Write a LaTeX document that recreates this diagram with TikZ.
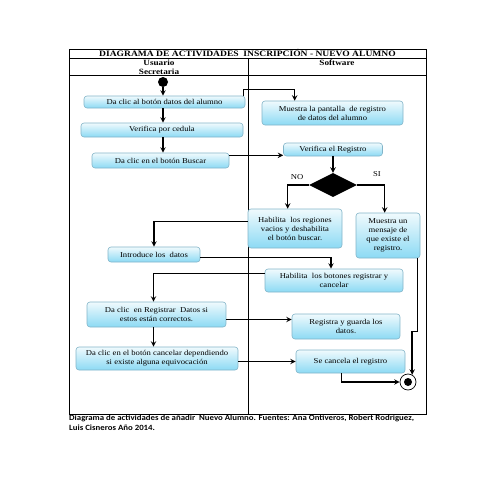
\documentclass[tikz,border=0pt]{standalone}
\usepackage{fontspec}
\setmainfont{Liberation Serif}[FakeStretch=1.15]
\newfontfamily\capfont{Carlito}[FakeStretch=1.1]
\usetikzlibrary{shapes.geometric,arrows}
\definecolor{boxtop}{RGB}{240,250,253}
\definecolor{boxbot}{RGB}{140,218,244}
\definecolor{boxline}{RGB}{130,180,200}

\begin{document}
\begin{tikzpicture}[x=1pt,y=-1pt, >=stealth,
    act/.style={rectangle, rounded corners=3pt, draw=boxline, line width=0.6pt,
      top color=boxtop, bottom color=boxbot, align=center, inner sep=1pt,
      font=\fontsize{7.5}{9}\selectfont},
    flow/.style={->, line width=1.4pt},
    head/.style={font=\bfseries\fontsize{8}{9}\selectfont}]
    \useasboundingbox (0,0) rectangle (495,495);
    % frame of the swimlanes
    \draw[line width=0.7pt] (69,49) rectangle (426,414);
    \draw[line width=0.7pt] (69,58) -- (426,58);
    \draw[line width=0.7pt] (69,75) -- (426,75);
    \draw[line width=0.7pt] (248,58) -- (248,414);
    \node[font=\bfseries\fontsize{8.3}{9}\selectfont] (title) at (247.5,53.5)
      {DIAGRAMA DE ACTIVIDADES\ \ INSCRIPCIÓN - NUEVO ALUMNO};
    \node[head, align=center] (user) at (159,67) {Usuario\\Secretaria};
    \node[head] (soft) at (337,62.5) {Software};

    \node[circle, fill=black, minimum size=10pt, inner sep=0pt] (start) at (163,82) {};
    \node[act, minimum width=161pt, minimum height=12pt] (datos) at (164.5,102)
      {Da clic al botón datos del alumno};
    \node[act, minimum width=141pt, minimum height=24pt] (pantalla) at (332.5,113)
      {Muestra la pantalla\ \ de registro\\de datos del alumno};
    \node[act, minimum width=162pt, minimum height=14pt] (cedula) at (162,130)
      {Verifica por cedula};
    \node[act, minimum width=137pt, minimum height=15pt] (buscar) at (160.5,160.5)
      {Da clic en el botón Buscar};
    \node[act, minimum width=99pt, minimum height=13pt] (verifica) at (333,149.5)
      {Verifica el Registro};
    \node[diamond, fill=black, minimum width=48pt, minimum height=24pt,
      inner sep=0pt] (dec) at (333,185) {};
    \node[font=\fontsize{7.5}{9}\selectfont] (no) at (297,177) {NO};
    \node[font=\fontsize{7.5}{9}\selectfont] (si) at (377,174) {SI};
    \node[act, minimum width=94pt, minimum height=39pt] (vacios) at (295,228.5)
      {Habilita\ \ los regiones\\vacios y deshabilita\\el botón buscar.};
    \node[act, minimum width=64pt, minimum height=45pt] (mensaje) at (388,235.5)
      {Muestra un\\mensaje de\\que existe el\\registro.};
    \node[act, minimum width=92pt, minimum height=15pt] (introduce) at (154,254.5)
      {Introduce los\ \ datos};
    \node[act, minimum width=138pt, minimum height=23pt] (botones) at (334,280.5)
      {Habilita\ \ los botones registrar y\\cancelar};
    \node[act, minimum width=139pt, minimum height=25pt] (registrar) at (156.5,314.5)
      {Da clic\ \ en Registrar\ \ Datos si\\estos están correctos.};
    \node[act, minimum width=108pt, minimum height=25pt] (guarda) at (346,326.5)
      {Registra y guarda los\\datos.};
    \node[act, minimum width=162pt, minimum height=23pt] (cancelar) at (157,358.5)
      {Da clic en el botón cancelar dependiendo\\si existe alguna equivocación};
    \node[act, minimum width=109pt, minimum height=23pt] (cancela) at (350.5,361.5)
      {Se cancela el registro};
    \node[circle, draw, line width=0.7pt, minimum size=16pt, inner sep=0pt] (end) at (408,382) {};
    \node[circle, fill=black, minimum size=8pt, inner sep=0pt] (endin) at (end) {};

    % flows
    \draw[flow] (start) -- (start |- datos.north);
    \draw[flow] ([xshift=-2pt]datos.north east) -- ++(0,-6) -| ([xshift=33pt]pantalla.north west);
    \draw[flow] (start |- datos.south) -- (start |- cedula.north);
    \draw[flow] (start |- cedula.south) -- (start |- buscar.north);
    \coordinate (b4) at ([yshift=1pt]buscar.east |- verifica.south);
    \draw[flow] (b4) -- (b4 -| verifica.west);
    \draw[flow] (verifica.south) -- (dec.north);
    \draw[flow] (dec.west) -| ([xshift=40pt]vacios.north west);
    \draw[flow] (dec.east) -| ([xshift=29pt]mensaje.north west);
    \draw[flow] ([yshift=7pt]vacios.west) -| (introduce.north);
    \draw[flow] ([yshift=-3pt]introduce.east) -| ([xshift=-3pt]botones.north);
    \draw[flow] ([yshift=7pt]botones.west) -| ([xshift=-3pt]registrar.north);
    \coordinate (b10) at ([yshift=-5pt]registrar.east);
    \draw[flow] (b10) -- (b10 -| guarda.west);
    \draw[flow] ([xshift=-3pt]registrar.south) -- ([xshift=-3pt]registrar.south |- cancelar.north);
    \draw[flow] (cancelar.east |- cancela.west) -- (cancela.west);
    \draw[flow] ([xshift=46pt]cancela.south west) |- (end.west);
    \draw[flow] ([xshift=-3pt]mensaje.south east) -- ++(0,73) -| (end.60);

    % caption
    \node[anchor=north west, align=left, inner sep=0pt,
      font=\capfont\bfseries\fontsize{8}{9.5}\selectfont] (caption) at (69,415)
      {Diagrama de actividades de añadir\ \ Nuevo Alumno. Fuentes: Ana Ontiveros, Robert Rodriguez,\\Luis Cisneros Año 2014.};
\end{tikzpicture}
\end{document}
